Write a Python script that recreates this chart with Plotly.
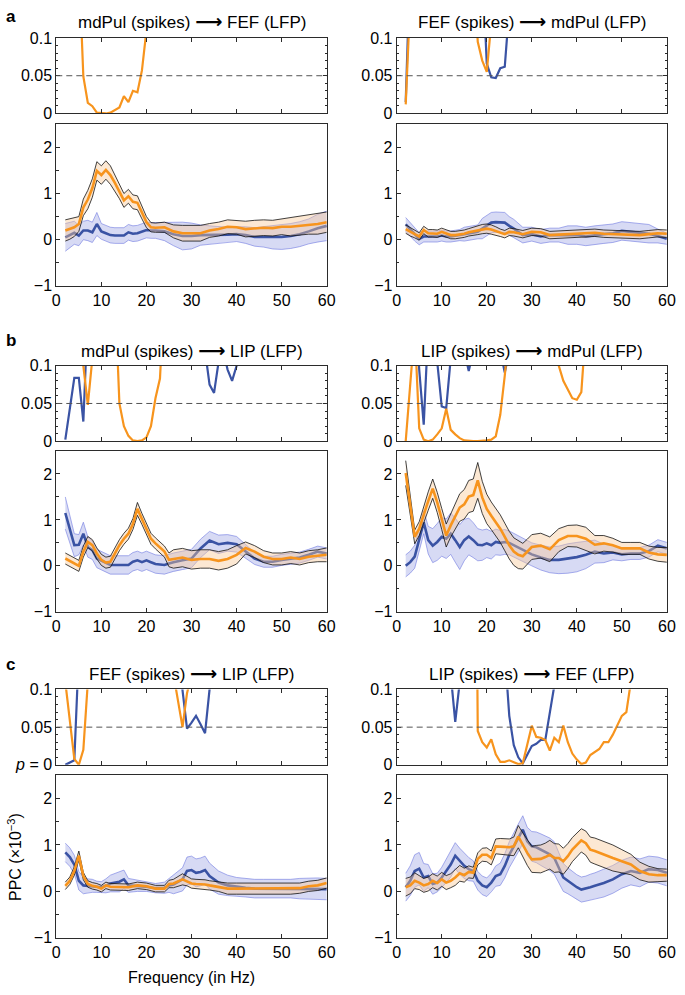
import numpy as np
import plotly.graph_objects as go

ORANGE = "#F7941D"
BLUE = "#3A53A4"
FONT = "Liberation Sans, Arial, sans-serif"

# ---------------- PPC data (x1e-3) ----------------
# a-left: mdPul -> FEF
F_AL = list(range(2, 23)) + list(range(24, 61, 2))
AL_orange = [0.2, 0.23, 0.27, 0.34, 0.7, 0.87, 1.12, 1.49, 1.4, 1.51, 1.4, 1.23, 1.05, 0.85, 0.94, 0.82, 0.8, 0.59, 0.38, 0.27, 0.26,
             0.27, 0.18, 0.14, 0.14, 0.14, 0.2, 0.23, 0.28, 0.27, 0.23, 0.25, 0.26, 0.25, 0.28, 0.28, 0.3, 0.33, 0.34, 0.38]
AL_orange_err = [0.23, 0.22, 0.2, 0.16, 0.18, 0.2, 0.2, 0.2, 0.2, 0.2, 0.2, 0.18, 0.16, 0.15, 0.15, 0.15, 0.15, 0.14, 0.12, 0.1, 0.1,
                 0.11, 0.14, 0.17, 0.17, 0.17, 0.15, 0.15, 0.15, 0.15, 0.17, 0.17, 0.17, 0.17, 0.17, 0.2, 0.2, 0.21, 0.22, 0.22]
AL_blue = [0.05, 0.1, 0.15, 0.09, 0.2, 0.2, 0.16, 0.34, 0.18, 0.14, 0.1, 0.09, 0.09, 0.09, 0.16, 0.13, 0.14, 0.17, 0.21, 0.2, 0.2,
           0.18, 0.12, 0.08, 0.08, 0.1, 0.1, 0.11, 0.11, 0.12, 0.1, 0.06, 0.06, 0.05, 0.06, 0.08, 0.12, 0.18, 0.25, 0.3]
AL_blue_err = [0.3, 0.28, 0.25, 0.22, 0.2, 0.22, 0.22, 0.25, 0.17, 0.17, 0.17, 0.17, 0.17, 0.17, 0.17, 0.17, 0.17, 0.17, 0.17, 0.17, 0.17,
               0.2, 0.25, 0.3, 0.28, 0.22, 0.2, 0.18, 0.16, 0.16, 0.18, 0.2, 0.22, 0.25, 0.27, 0.27, 0.27, 0.27, 0.3, 0.32]

# a-right: FEF -> mdPul
F_AR = list(range(2, 27)) + list(range(28, 61, 2))
AR_orange = [0.23, 0.17, 0.12, 0.07, 0.21, 0.14, 0.14, 0.13, 0.17, 0.14, 0.1, 0.1, 0.11, 0.13, 0.16, 0.18, 0.21, 0.23, 0.24, 0.22, 0.19, 0.15, 0.12, 0.17, 0.16,
             0.12, 0.17, 0.16, 0.1, 0.11, 0.12, 0.12, 0.13, 0.15, 0.13, 0.12, 0.11, 0.1, 0.1, 0.12, 0.14, 0.13]
AR_orange_err = [0.09, 0.09, 0.08, 0.08, 0.08, 0.08, 0.08, 0.08, 0.08, 0.08, 0.08, 0.08, 0.08, 0.08, 0.08, 0.09, 0.1, 0.1, 0.1, 0.1, 0.09, 0.08, 0.08, 0.08, 0.08,
                 0.08, 0.08, 0.08, 0.08, 0.08, 0.08, 0.08, 0.08, 0.08, 0.08, 0.08, 0.08, 0.08, 0.08, 0.08, 0.08, 0.08]
AR_blue = [0.33, 0.22, 0.12, 0.02, 0.07, 0.07, 0.07, 0.07, 0.09, 0.07, 0.07, 0.08, 0.1, 0.12, 0.14, 0.15, 0.17, 0.24, 0.31, 0.37, 0.38, 0.37, 0.37, 0.3, 0.24,
           0.1, 0.12, 0.07, 0.1, 0.1, 0.1, 0.1, 0.07, 0.1, 0.12, 0.14, 0.19, 0.17, 0.15, 0.13, 0.08, 0.02]
AR_blue_err = [0.15, 0.15, 0.15, 0.13, 0.12, 0.12, 0.12, 0.12, 0.12, 0.12, 0.12, 0.12, 0.12, 0.15, 0.15, 0.15, 0.15, 0.22, 0.22, 0.22, 0.22, 0.22, 0.22, 0.2, 0.2,
               0.17, 0.15, 0.15, 0.15, 0.15, 0.2, 0.2, 0.2, 0.2, 0.2, 0.2, 0.2, 0.2, 0.2, 0.2, 0.15, 0.12]

# b-left: mdPul -> LIP
F_BL = list(range(2, 27)) + list(range(28, 61, 2))
BL_blue = [1.15, 0.8, 0.45, 0.46, 0.7, 0.41, 0.34, 0.16, 0.11, 0.06, 0.02, 0.02, 0.02, 0.02, 0.02, 0.09, 0.12, 0.08, 0.12, 0.08, 0.04, 0.03, 0.02, 0.05, 0.08,
           0.12, 0.16, 0.38, 0.55, 0.47, 0.5, 0.47, 0.31, 0.16, 0.09, 0.09, 0.13, 0.15, 0.18, 0.24, 0.31, 0.27]
BL_blue_err = [0.35, 0.3, 0.25, 0.22, 0.25, 0.22, 0.2, 0.2, 0.2, 0.2, 0.2, 0.2, 0.2, 0.2, 0.2, 0.2, 0.2, 0.2, 0.2, 0.2, 0.2, 0.2, 0.2, 0.2, 0.2,
               0.2, 0.2, 0.2, 0.2, 0.2, 0.18, 0.17, 0.15, 0.13, 0.12, 0.12, 0.12, 0.12, 0.12, 0.12, 0.12, 0.12]
BL_orange = [0.16, 0.11, 0.06, 0.0, 0.31, 0.52, 0.45, 0.27, 0.13, 0.07, 0.09, 0.27, 0.45, 0.59, 0.7, 0.91, 1.24, 1.02, 0.81, 0.59, 0.49, 0.41, 0.31, 0.13, 0.15,
             0.18, 0.13, 0.15, 0.15, 0.11, 0.15, 0.24, 0.39, 0.31, 0.2, 0.15, 0.15, 0.18, 0.15, 0.2, 0.22, 0.24]
BL_orange_err = [0.12, 0.12, 0.12, 0.12, 0.12, 0.12, 0.12, 0.12, 0.12, 0.12, 0.12, 0.12, 0.12, 0.12, 0.12, 0.12, 0.14, 0.12, 0.12, 0.12, 0.12, 0.12, 0.12, 0.15, 0.2,
                 0.2, 0.2, 0.2, 0.2, 0.2, 0.2, 0.2, 0.13, 0.13, 0.13, 0.13, 0.13, 0.13, 0.13, 0.13, 0.13, 0.15]

# b-right: LIP -> mdPul
F_BR = list(range(2, 31)) + list(range(32, 61, 2))
BR_orange = [2.02, 1.32, 0.63, 0.81, 1.13, 1.41, 1.68, 1.38, 1.02, 0.66, 0.88, 1.09, 1.27, 1.34, 1.51, 1.54, 1.86, 1.49, 1.24, 1.09,
             0.95, 0.81, 0.63, 0.45, 0.31, 0.24, 0.21, 0.31, 0.41,
             0.44, 0.36, 0.56, 0.65, 0.65, 0.59, 0.46, 0.49, 0.45, 0.38, 0.38, 0.38, 0.29, 0.25, 0.24]
BR_orange_err = [0.27, 0.2, 0.15, 0.15, 0.18, 0.2, 0.21, 0.22, 0.23, 0.25, 0.25, 0.28, 0.3, 0.32, 0.35, 0.35, 0.39, 0.35, 0.32, 0.3,
                 0.3, 0.3, 0.3, 0.3, 0.3, 0.3, 0.28, 0.27, 0.27,
                 0.27, 0.27, 0.25, 0.23, 0.24, 0.25, 0.2, 0.17, 0.15, 0.13, 0.13, 0.13, 0.14, 0.15, 0.16]
BR_blue = [0.0, 0.08, 0.2, 0.56, 0.95, 0.56, 0.44, 0.52, 0.63, 0.59, 0.7, 0.56, 0.41, 0.56, 0.64, 0.56, 0.46, 0.45, 0.49, 0.45,
           0.52, 0.5, 0.52, 0.5, 0.45, 0.4, 0.35, 0.3, 0.25,
           0.18, 0.13, 0.13, 0.16, 0.19, 0.24, 0.31, 0.27, 0.29, 0.25, 0.27, 0.27, 0.32, 0.44, 0.38]
BR_blue_err = [0.24, 0.24, 0.25, 0.25, 0.25, 0.3, 0.37, 0.4, 0.42, 0.43, 0.45, 0.48, 0.49, 0.45, 0.4, 0.38, 0.35, 0.33, 0.31, 0.3,
               0.28, 0.27, 0.27, 0.26, 0.26, 0.25, 0.25, 0.25, 0.25,
               0.27, 0.28, 0.3, 0.32, 0.32, 0.3, 0.25, 0.2, 0.16, 0.14, 0.13, 0.13, 0.13, 0.13, 0.13]

# c-left: FEF -> LIP
F_CL = [2, 3, 4, 5, 6, 7, 8, 9, 10, 11, 12, 14, 15, 16, 18, 20, 22, 24, 25, 26, 28, 29, 30, 31, 32, 33, 34,
        36, 38, 40, 42, 44, 46, 48, 50, 52, 54, 56, 58, 60]
CL_blue = [0.84, 0.74, 0.58, 0.23, 0.13, 0.12, 0.12, 0.1, 0.09, 0.12, 0.17, 0.21, 0.26, 0.13, 0.12, 0.1, 0.07, 0.08, 0.13, 0.15,
           0.26, 0.44, 0.46, 0.4, 0.42, 0.46, 0.33,
           0.19, 0.13, 0.1, 0.08, 0.06, 0.06, 0.06, 0.06, 0.06, 0.06, 0.06, 0.06, 0.05]
CL_blue_err = [0.2, 0.2, 0.2, 0.2, 0.18, 0.15, 0.14, 0.12, 0.12, 0.15, 0.18, 0.22, 0.2, 0.15, 0.12, 0.1, 0.1, 0.12, 0.15, 0.2,
               0.25, 0.3, 0.3, 0.3, 0.3, 0.3, 0.28,
               0.25, 0.22, 0.2, 0.2, 0.2, 0.2, 0.2, 0.2, 0.2, 0.22, 0.23, 0.23, 0.23]
CL_orange = [0.12, 0.23, 0.44, 0.77, 0.33, 0.16, 0.12, 0.1, 0.06, 0.13, 0.1, 0.09, 0.09, 0.09, 0.13, 0.11, 0.06, 0.06, 0.16, 0.17,
             0.26, 0.22, 0.17, 0.16, 0.16, 0.15, 0.13,
             0.1, 0.06, 0.06, 0.06, 0.06, 0.06, 0.06, 0.06, 0.06, 0.07, 0.11, 0.13, 0.18]
CL_orange_err = [0.08, 0.08, 0.09, 0.1, 0.08, 0.07, 0.07, 0.07, 0.07, 0.07, 0.07, 0.07, 0.07, 0.07, 0.07, 0.07, 0.07, 0.07, 0.08, 0.09,
                 0.12, 0.1, 0.1, 0.1, 0.1, 0.1, 0.1,
                 0.1, 0.12, 0.12, 0.12, 0.12, 0.12, 0.12, 0.12, 0.12, 0.11, 0.11, 0.11, 0.11]

# c-right: LIP -> FEF
F_CR = list(range(2, 45)) + list(range(46, 61, 2))
CR_blue = [0.09, 0.23, 0.44, 0.49, 0.3, 0.33, 0.16, 0.19, 0.3, 0.44, 0.58, 0.77, 0.65, 0.55, 0.48, 0.44, 0.23, 0.13, 0.09, 0.19,
           0.33, 0.37, 0.55, 0.79, 0.97, 1.15, 1.33, 1.08, 0.97, 0.95, 0.9, 0.85, 0.8, 0.72, 0.51, 0.3, 0.23, 0.16, 0.09, 0.04,
           0.06, 0.09, 0.12, 0.18, 0.26, 0.37, 0.44, 0.4, 0.48, 0.46, 0.4]
CR_blue_err = [0.3, 0.32, 0.35, 0.35, 0.3, 0.25, 0.22, 0.2, 0.22, 0.25, 0.27, 0.28, 0.28, 0.27, 0.25, 0.22, 0.2, 0.2, 0.2, 0.2,
               0.22, 0.24, 0.26, 0.28, 0.3, 0.3, 0.3, 0.3, 0.32, 0.33, 0.34, 0.35, 0.35, 0.35, 0.33, 0.3, 0.28, 0.27, 0.27, 0.27,
               0.27, 0.28, 0.28, 0.3, 0.3, 0.3, 0.3, 0.3, 0.28, 0.28, 0.28]
CR_orange = [0.09, 0.13, 0.23, 0.19, 0.13, 0.16, 0.23, 0.18, 0.26, 0.19, 0.23, 0.3, 0.39, 0.35, 0.42, 0.4, 0.7, 0.79, 0.79, 0.72,
             0.97, 0.97, 0.96, 0.95, 0.97, 1.18, 1.0, 0.83, 0.69, 0.7, 0.7, 0.74, 0.79, 0.72, 0.72, 0.65, 0.76, 0.9, 1.0, 1.1,
             1.04, 0.9, 0.87, 0.79, 0.72, 0.65, 0.58, 0.44, 0.37, 0.35, 0.35]
CR_orange_err = [0.19, 0.18, 0.17, 0.15, 0.15, 0.15, 0.15, 0.15, 0.15, 0.15, 0.15, 0.17, 0.17, 0.15, 0.13, 0.12, 0.13, 0.14, 0.15, 0.15,
                 0.16, 0.17, 0.18, 0.18, 0.2, 0.24, 0.26, 0.27, 0.28, 0.29, 0.3, 0.3, 0.31, 0.31, 0.3, 0.28, 0.27, 0.26, 0.25, 0.25,
                 0.26, 0.27, 0.28, 0.28, 0.28, 0.25, 0.22, 0.19, 0.17, 0.14, 0.13]

# ---------------- p-values (None = gap) ----------------
PAL_blue_f, PAL_blue_p = [], []
PAL_orange_f = list(range(5, 21))
PAL_orange_p = [0.2, 0.049, 0.014, 0.0096, 0.001, 0.0, 0.0, 0.001, 0.004, 0.008, 0.023, 0.015, 0.03, 0.028, 0.057, 0.11]

PAR_blue_f = [2, 3, None, 19, 20, 21, 22, 23, 24, 25]
PAR_blue_p = [0.015, 0.2, None, 0.2, 0.066, 0.048, 0.047, 0.06, 0.062, 0.14]
PAR_orange_f = [2, 3, None, 17, 18, 19, 20, 21]
PAR_orange_p = [0.012, 0.15, None, 0.2, 0.095, 0.07, 0.055, 0.12]

PBL_blue_f = [2, 3, 4, 5, 6, 7, None, 33, 34, 35, 36, 37, 38, 39, 40, 41]
PBL_blue_p = [0.002, 0.043, 0.084, 0.084, 0.026, 0.17, None, 0.12, 0.075, 0.064, 0.105, 0.12, 0.095, 0.08, 0.1, 0.15]
PBL_orange_f = [5, 6, 7, 8, None, 13, 14, 15, 16, 17, 18, 19, 20, 21, 22, 23, 24]
PBL_orange_p = [0.2, 0.1, 0.048, 0.11, None, 0.2, 0.05, 0.02, 0.007, 0.001, 0.0, 0.001, 0.005, 0.02, 0.057, 0.083, 0.2]

PBR_blue_f = [4, 5, 6, 7, 8, 9, 10, 11, 12, None, 15, 16, 17, None, 23, 24, 25]
PBR_blue_p = [0.2, 0.095, 0.022, 0.15, 0.2, 0.105, 0.046, 0.044, 0.11, None, 0.12, 0.093, 0.12, None, 0.12, 0.091, 0.12]
PBR_orange_f = list(range(2, 26)) + [None, 35, 36, 37, 38, 39, 40, 41, 42]
PBR_orange_p = [0.0, 0.08, 0.15, 0.017, 0.002, 0.0, 0.002, 0.009, 0.017, 0.043, 0.015, 0.009, 0.004, 0.001, 0.0, 0.0, 0.0, 0.0,
                0.001, 0.002, 0.0065, 0.035, 0.087, 0.15, None, 0.15, 0.1, 0.08, 0.068, 0.057, 0.055, 0.065, 0.15]

PCL_blue_f = [2, 3, 4, 5, None, 27, 28, 29, 30, 31, 32, 33, 34, 35]
PCL_blue_p = [0.0, 0.003, 0.006, 0.15, None, 0.15, 0.1, 0.048, 0.056, 0.065, 0.054, 0.042, 0.1, 0.15]
PCL_orange_f = [2, 3, 4, 5, 6, 7, None, 26, 27, 28, 29, 30]
PCL_orange_p = [0.11, 0.059, 0.008, 0.0, 0.02, 0.11, None, 0.12, 0.085, 0.05, 0.095, 0.12]

PCR_blue_f = [12, 13, 14, None] + list(range(24, 36))
PCR_blue_p = [0.12, 0.057, 0.11, None, 0.15, 0.065, 0.026, 0.01, 0.002, 0.014, 0.025, 0.028, 0.033, 0.033, 0.072, 0.105]
PCR_orange_f = list(range(17, 53))
PCR_orange_p = [0.8, 0.045, 0.03, 0.023, 0.034, 0.014, 0.004, 0.004, 0.006, 0.004, 0.001, 0.002, 0.025, 0.052, 0.037, 0.036,
                0.033, 0.019, 0.036, 0.03, 0.052, 0.03, 0.015, 0.007, 0.001, 0.003, 0.013, 0.017, 0.021, 0.03, 0.03, 0.04,
                0.052, 0.065, 0.07, 0.11]

ARROW = "<span style=\"font-family:'DejaVu Sans';font-size:19px\"><b>⟶</b></span>"
TITLES = [f"mdPul (spikes) {ARROW} FEF (LFP)", f"FEF (spikes) {ARROW} mdPul (LFP)",
          f"mdPul (spikes) {ARROW} LIP (LFP)", f"LIP (spikes) {ARROW} mdPul (LFP)",
          f"FEF (spikes) {ARROW} LIP (LFP)", f"LIP (spikes) {ARROW} FEF (LFP)"]
LETTERS = ["a", "b", "c"]
P_TICKS = [0, 0.05, 0.1]
PPC_TICKS = [-1, 0, 1, 2]
PPC_TICKTEXT = ["−1", "0", "1", "2"]
X_TICKS = [0, 10, 20, 30, 40, 50, 60]

panels = [
    (F_AL, AL_blue, AL_blue_err, AL_orange, AL_orange_err, PAL_blue_f, PAL_blue_p, PAL_orange_f, PAL_orange_p),
    (F_AR, AR_blue, AR_blue_err, AR_orange, AR_orange_err, PAR_blue_f, PAR_blue_p, PAR_orange_f, PAR_orange_p),
    (F_BL, BL_blue, BL_blue_err, BL_orange, BL_orange_err, PBL_blue_f, PBL_blue_p, PBL_orange_f, PBL_orange_p),
    (F_BR, BR_blue, BR_blue_err, BR_orange, BR_orange_err, PBR_blue_f, PBR_blue_p, PBR_orange_f, PBR_orange_p),
    (F_CL, CL_blue, CL_blue_err, CL_orange, CL_orange_err, PCL_blue_f, PCL_blue_p, PCL_orange_f, PCL_orange_p),
    (F_CR, CR_blue, CR_blue_err, CR_orange, CR_orange_err, PCR_blue_f, PCR_blue_p, PCR_orange_f, PCR_orange_p),
]

W, H = 685, 995
XDOM = [[53.3 / W, 329.0 / W], [400.3 / W, 675.7 / W]]
P_PX = [(30.5, 107.3), (364.0, 440.7), (693.3, 770.0)]
PPC_PX = [(118.3, 282.7), (450.7, 614.3), (780.7, 946.0)]
TITLE_PX = [13.7, 348.0, 676.7]
LETTER_PX = [9.0, 338.0, 668.0]


def ydom(px):
    return [1 - px[1] / H, 1 - px[0] / H]


fig = go.Figure()
layout = dict(width=W, height=H, margin=dict(l=0, r=0, t=0, b=0), showlegend=False,
              paper_bgcolor="white", plot_bgcolor="white", font=dict(family=FONT, size=16, color="black"))
shapes, annotations = [], []
AX = "#2b2b2b"

for i, pan in enumerate(panels):
    F, b, be, o, oe, pbf, pbv, pof, pov = pan
    row, col = i // 2, i % 2
    ip = 2 * i + 1
    iq = 2 * i + 2
    xp, yp = f"x{ip}", f"y{ip}"
    xq, yq = f"x{iq}", f"y{iq}"
    # p-value panel
    layout[f"xaxis{ip}"] = dict(domain=XDOM[col], anchor=yp, range=[0, 60], tickvals=X_TICKS, ticks="inside",
                                ticklen=4, tickcolor=AX, showticklabels=False, showline=True, linecolor=AX,
                                linewidth=1, mirror="allticks", showgrid=False, zeroline=False)
    ptext = ["<i>p</i> = 0" if (row == 2 and col == 0) else "0", "0.05", "0.1"]
    layout[f"yaxis{ip}"] = dict(domain=ydom(P_PX[row]), anchor=xp, range=[0, 0.1], tickvals=P_TICKS, ticktext=ptext,
                                ticks="inside", ticklen=4, tickcolor=AX, showline=True, linecolor=AX, linewidth=1,
                                mirror="allticks", showgrid=False, zeroline=False, tickfont=dict(size=16),
                                minor=dict(dtick=0.01, ticks="inside", ticklen=2, tickcolor=AX, showgrid=False))
    shapes.append(dict(type="line", xref=xp, yref=yp, x0=0, x1=60, y0=0.05, y1=0.05,
                       line=dict(color="#555555", width=1, dash="6px,4px")))
    if pbf:
        fig.add_trace(go.Scatter(x=pbf, y=pbv, xaxis=xp, yaxis=yp, mode="lines", connectgaps=False,
                                 line=dict(color=BLUE, width=2.2)))
    fig.add_trace(go.Scatter(x=pof, y=pov, xaxis=xp, yaxis=yp, mode="lines", connectgaps=False,
                             line=dict(color=ORANGE, width=2.2)))

    # PPC panel
    layout[f"xaxis{iq}"] = dict(domain=XDOM[col], anchor=yq, range=[0, 60], tickvals=X_TICKS, ticks="inside",
                                ticklen=4, tickcolor=AX, showline=True, linecolor=AX, linewidth=1, mirror=True,
                                showgrid=False, zeroline=False, tickfont=dict(size=16))
    layout[f"yaxis{iq}"] = dict(domain=ydom(PPC_PX[row]), anchor=xq, range=[-1, 2.5], tickvals=PPC_TICKS,
                                ticktext=PPC_TICKTEXT, ticks="inside", ticklen=4, tickcolor=AX, showline=True,
                                linecolor=AX, linewidth=1, mirror=True, showgrid=False, zeroline=False,
                                tickfont=dict(size=16),
                                minor=dict(dtick=0.5, ticks="inside", ticklen=2.5, tickcolor=AX, showgrid=False))
    Fa = np.array(F, dtype=float)
    for mean, err, fillc, edgec, linec in [
        (b, be, "rgba(75,85,205,0.22)", "rgba(110,120,225,0.75)", BLUE),
        (o, oe, "rgba(248,200,150,0.42)", "#111111", ORANGE),
    ]:
        m = np.array(mean)
        e = np.array(err)
        hi, lo = m + e, m - e
        fig.add_trace(go.Scatter(x=np.concatenate([Fa, Fa[::-1]]), y=np.concatenate([hi, lo[::-1]]),
                                 xaxis=xq, yaxis=yq, mode="lines", fill="toself", fillcolor=fillc,
                                 line=dict(width=0), hoverinfo="skip"))
        for edge in (hi, lo):
            fig.add_trace(go.Scatter(x=Fa, y=edge, xaxis=xq, yaxis=yq, mode="lines",
                                     line=dict(color=edgec, width=0.8)))
        fig.add_trace(go.Scatter(x=Fa, y=m, xaxis=xq, yaxis=yq, mode="lines",
                                 line=dict(color=linec, width=2.6)))

    xc = (XDOM[col][0] + XDOM[col][1]) / 2
    annotations.append(dict(text=TITLES[i], xref="paper", yref="paper", x=xc, y=1 - TITLE_PX[row] / H,
                            xanchor="center", yanchor="middle", showarrow=False, font=dict(size=17)))

for r in range(3):
    annotations.append(dict(text=f"<b>{LETTERS[r]}</b>", xref="paper", yref="paper", x=0.0, y=1 - LETTER_PX[r] / H,
                            xanchor="left", yanchor="middle", showarrow=False, font=dict(size=17)))

annotations.append(dict(text="Frequency (in Hz)", xref="paper", yref="paper", x=(XDOM[0][0] + XDOM[0][1]) / 2,
                        y=1 - 986.7 / H, xanchor="center", yanchor="middle", showarrow=False, font=dict(size=16)))
annotations.append(dict(text="PPC (×10<sup>−3</sup>)", xref="paper", yref="paper", x=11 / W, y=1 - 864 / H,
                        xanchor="center", yanchor="middle", showarrow=False, textangle=-90, font=dict(size=16)))

layout["shapes"] = shapes
layout["annotations"] = annotations
fig.update_layout(**layout)
fig.write_html("out.html", config={"displayModeBar": False},
               post_script="document.body.style.margin='0';document.body.style.padding='0';"
                           "document.documentElement.style.overflow='hidden';")
